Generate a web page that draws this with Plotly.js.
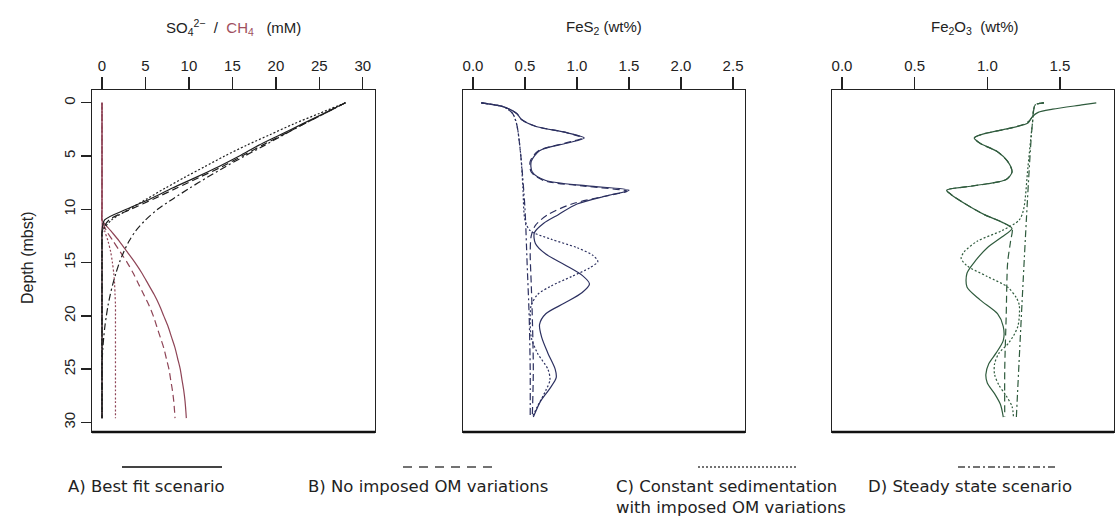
<!DOCTYPE html>
<html>
<head>
<meta charset="utf-8">
<script src="https://cdn.plot.ly/plotly-3.0.1.min.js"></script>
<style>html,body{margin:0;padding:0;background:#fff;}#chart{width:1120px;height:527px;}</style>
</head>
<body>
<div id="chart"></div>
<script>
// ---------- DATA ----------
// Panel 1: SO4 / CH4 (mM) on a common depth grid (mbsf)
const depth1 = [0,1,2,3,4,5,6,7,8,9,10,11,12,13,14,15,16,17,18,19,20,21,22,23,24,25,26,27,28,29,29.6];
const so4_A = [28,25.5,23,20.5,18,15.8,13.4,10.8,8.1,5.6,2.8,0.3,0,0,0,0,0,0,0,0,0,0,0,0,0,0,0,0,0,0,0];
const so4_B = [28,25.6,23.2,20.8,18.4,16.1,13.8,11.2,8.6,6.0,3.3,0.8,0.05,0,0,0,0,0,0,0,0,0,0,0,0,0,0,0,0,0,0];
const so4_C = [28,25,22,19.3,16.6,14.1,11.8,9.5,7.3,5.2,3.1,1.1,0.1,0,0,0,0,0,0,0,0,0,0,0,0,0,0,0,0,0,0];
const so4_D = [28,25.6,23.2,20.9,18.7,16.4,14.2,12.1,10.1,8.2,6.4,5.0,3.9,3.1,2.5,2.0,1.6,1.25,0.95,0.7,0.5,0.33,0.2,0.1,0.03,0,0,0,0,0,0];
const ch4_A = [0,0,0,0,0,0,0,0,0,0,0,0,1.0,2.0,2.9,3.8,4.6,5.3,6.0,6.6,7.1,7.6,8.0,8.4,8.7,9.0,9.2,9.4,9.55,9.65,9.7];
const ch4_B = [0,0,0,0,0,0,0,0,0,0,0,0,0.5,1.3,2.1,2.9,3.6,4.2,4.8,5.4,5.9,6.3,6.7,7.1,7.4,7.7,7.9,8.1,8.25,8.35,8.4];
const ch4_C = [0,0,0,0,0,0,0,0,0,0,0,0,0.3,0.7,1.0,1.2,1.35,1.45,1.5,1.55,1.55,1.55,1.55,1.55,1.55,1.55,1.55,1.55,1.55,1.55,1.55];
const ch4_D = [0,0,0,0,0,0,0,0,0,0,0,0,0,0,0,0,0,0,0,0,0,0,0,0,0,0,0,0,0,0,0];

// Panel 2: FeS2 (wt%)
const fes2_A_depth = [0,0.4,1.0,1.6,2.2,2.8,3.3,3.8,4.5,5.5,6.5,7.3,7.8,8.2,8.7,9.5,10.5,11.3,12.2,13.2,14.2,15.2,16.2,17.0,17.8,18.8,19.8,20.8,22.0,23.5,25.0,25.8,26.8,28.0,29.5];
const fes2_A       = [0.08,0.3,0.42,0.47,0.6,0.9,1.07,0.9,0.64,0.56,0.57,0.7,1.1,1.5,1.3,1.0,0.82,0.68,0.59,0.6,0.7,0.88,1.05,1.12,1.05,0.88,0.7,0.64,0.66,0.72,0.79,0.8,0.74,0.65,0.58];
const fes2_B_depth = [0,0.4,1.0,1.6,2.2,2.8,3.3,3.8,4.5,5.5,6.5,7.3,7.8,8.3,8.8,9.5,10.5,11.5,12.5,14,17,20,25,29.5];
const fes2_B       = [0.08,0.3,0.42,0.47,0.6,0.9,1.05,0.88,0.63,0.55,0.56,0.68,1.05,1.48,1.25,0.95,0.72,0.6,0.56,0.55,0.56,0.57,0.58,0.57];
const fes2_C_depth = [0,0.4,1.0,2,5,8,11,12,12.8,13.6,14.3,14.9,15.5,16.3,17.2,18,19,20,22,23.5,25,26,27,28.5,29.5];
const fes2_C       = [0.08,0.3,0.38,0.42,0.46,0.48,0.5,0.55,0.75,1.0,1.15,1.2,1.12,0.95,0.75,0.62,0.56,0.55,0.56,0.62,0.72,0.74,0.7,0.62,0.57];
const fes2_D_depth = [0,0.4,1.0,2,5,10,15,20,25,29.5];
const fes2_D       = [0.08,0.3,0.38,0.42,0.46,0.5,0.52,0.54,0.55,0.55];

// Panel 3: Fe2O3 (wt%)
const fe2o3_A_depth = [0,0.2,0.6,0.9,1.3,1.9,2.4,2.9,3.3,3.8,4.6,5.5,6.5,7.2,7.6,7.9,8.2,8.6,9.5,10.5,11.2,11.8,12.6,13.6,14.8,16.0,17.3,18.5,19.8,21.0,22.3,23.5,24.5,25.5,26.3,27.3,28.3,29.5];
const fe2o3_A       = [1.75,1.65,1.45,1.35,1.31,1.28,1.15,0.98,0.91,0.95,1.07,1.14,1.17,1.13,1.0,0.85,0.72,0.75,0.85,0.98,1.1,1.17,1.1,1.0,0.92,0.86,0.86,0.95,1.07,1.11,1.11,1.06,1.01,0.99,1.0,1.05,1.09,1.11];
const fe2o3_B_depth = [0,0.2,1.3,1.9,2.4,2.9,3.3,3.8,4.6,5.5,6.5,7.2,7.6,7.9,8.2,8.6,9.5,10.5,11.2,11.8,13,15,20,25,29.5];
const fe2o3_B       = [1.39,1.33,1.31,1.27,1.15,0.98,0.91,0.95,1.07,1.14,1.17,1.13,1.0,0.85,0.72,0.75,0.85,0.98,1.1,1.17,1.16,1.14,1.13,1.12,1.12];
const fe2o3_C_depth = [0,0.2,2,6,10,11,12,13,14,14.6,15.3,16.3,17.3,18.3,19,21,22.5,23.5,24.5,25.5,26.5,27.5,28.5,29.5];
const fe2o3_C       = [1.39,1.33,1.31,1.28,1.25,1.22,1.1,0.93,0.84,0.82,0.86,1.0,1.14,1.2,1.22,1.21,1.15,1.08,1.05,1.05,1.08,1.13,1.17,1.18];
const fe2o3_D_depth = [0,0.2,2,29.5];
const fe2o3_D       = [1.39,1.33,1.31,1.2];

// Tick labels
const ticks1 = [0,5,10,15,20,25,30];
const ticks2 = [0,0.5,1,1.5,2,2.5];
const ticks2Text = ['0.0','0.5','1.0','1.5','2.0','2.5'];
const ticks3 = [0,0.5,1,1.5];
const ticks3Text = ['0.0','0.5','1.0','1.5'];
const depthTicks = [0,5,10,15,20,25,30];

const legendLabels = ['A) Best fit scenario','B) No imposed OM variations','C) Constant sedimentation<br>with imposed OM variations','D) Steady state scenario'];

// ---------- STYLE ----------
const W = 1120, H = 527;
const DASH = {A:'solid', B:'7px,4px', C:'2px,2px', D:'7px,3px,2px,3px'};
const COL_SO4 = '#1e1e1e', COL_CH4 = '#8e4456', COL_FES2 = '#2c3060', COL_FE2O3 = '#2f5b3d';

function tr(x, y, xa, ya, color, dash, w) {
  return {x: x, y: y, xaxis: xa, yaxis: ya, type: 'scatter', mode: 'lines',
          line: {color: color, dash: dash, width: w || 1.2, shape: 'spline', smoothing: 0.8},
          hoverinfo: 'skip'};
}
const data = [
  tr(ch4_D, depth1, 'x', 'y', '#b0607a', 'solid', 1),
  tr(ch4_A, depth1, 'x', 'y', COL_CH4, DASH.A),
  tr(ch4_B, depth1, 'x', 'y', COL_CH4, DASH.B),
  tr(ch4_C, depth1, 'x', 'y', COL_CH4, DASH.C),
  tr(so4_A, depth1, 'x', 'y', COL_SO4, DASH.A),
  tr(so4_B, depth1, 'x', 'y', COL_SO4, DASH.B),
  tr(so4_C, depth1, 'x', 'y', COL_SO4, DASH.C),
  tr(so4_D, depth1, 'x', 'y', COL_SO4, DASH.D),
  tr(fes2_D, fes2_D_depth, 'x2', 'y2', COL_FES2, DASH.D),
  tr(fes2_C, fes2_C_depth, 'x2', 'y2', COL_FES2, DASH.C),
  tr(fes2_B, fes2_B_depth, 'x2', 'y2', COL_FES2, DASH.B),
  tr(fes2_A, fes2_A_depth, 'x2', 'y2', COL_FES2, DASH.A),
  tr(fe2o3_D, fe2o3_D_depth, 'x3', 'y3', COL_FE2O3, DASH.D),
  tr(fe2o3_C, fe2o3_C_depth, 'x3', 'y3', COL_FE2O3, DASH.C),
  tr(fe2o3_B, fe2o3_B_depth, 'x3', 'y3', COL_FE2O3, DASH.B),
  tr(fe2o3_A, fe2o3_A_depth, 'x3', 'y3', COL_FE2O3, DASH.A)
];

const yDom = [1 - 432 / H, 1 - 90 / H];
const yRange = [30.9, -1.2];
const tickFont = {family: 'Liberation Sans, Arial, sans-serif', size: 15, color: '#222'};
function xax(dom, range, tv, tt, anchor) {
  const a = {domain: dom, range: range, side: 'top', anchor: anchor, tickvals: tv,
    ticks: 'outside', ticklen: 12, tickwidth: 1.3, tickcolor: '#222',
    showline: true, mirror: true, linecolor: '#222', linewidth: 1.3,
    showgrid: false, zeroline: false, tickfont: tickFont, fixedrange: true};
  if (tt) a.ticktext = tt;
  return a;
}
function yax(anchor, showTicks) {
  return {domain: yDom, range: yRange, anchor: anchor,
    showline: true, mirror: true, linecolor: '#222', linewidth: 1.3,
    showgrid: false, zeroline: false,
    tickvals: showTicks ? depthTicks : [], ticks: showTicks ? 'outside' : '',
    ticklen: 10, tickwidth: 1.3, tickcolor: '#222', tickangle: -90,
    showticklabels: showTicks, tickfont: tickFont, fixedrange: true};
}

const legFont = {family: 'DejaVu Sans, sans-serif', size: 16.5, color: '#222'};
const titleFont = {family: 'Liberation Sans, Arial, sans-serif', size: 15, color: '#222'};
const shapes = [];
// thicker bottom frame lines
['x', 'x2', 'x3'].forEach((xa, i) => {
  const ya = ['y', 'y2', 'y3'][i];
  shapes.push({type: 'line', xref: xa + ' domain', yref: ya + ' domain', x0: 0, x1: 1, y0: 0, y1: 0,
               line: {color: '#111', width: 2.6}});
});
// legend samples
const legendLines = [[122, 222, DASH.A], [403, 493, '9px,7px'], [698, 798, DASH.C], [958, 1058, DASH.D]];
legendLines.forEach(l => {
  shapes.push({type: 'line', xref: 'paper', yref: 'paper', x0: l[0] / W, x1: l[1] / W,
               y0: 1 - 467 / H, y1: 1 - 467 / H, line: {color: '#444', width: l[2] === 'solid' ? 2 : 1.5, dash: l[2]}});
});

const annotations = [
  {text: 'SO<sub>4</sub><sup>2−</sup>  /  <span style="color:#a0505e">CH<sub>4</sub></span>   (mM)', x: 233 / W, y: 1 - 27 / H,
   xref: 'paper', yref: 'paper', showarrow: false, xanchor: 'center', yanchor: 'middle', font: titleFont},
  {text: 'FeS<sub>2</sub> (wt%)', x: 604 / W, y: 1 - 27 / H, xref: 'paper', yref: 'paper', showarrow: false,
   xanchor: 'center', yanchor: 'middle', font: titleFont},
  {text: 'Fe<sub>2</sub>O<sub>3</sub>  (wt%)', x: 975 / W, y: 1 - 27 / H, xref: 'paper', yref: 'paper', showarrow: false,
   xanchor: 'center', yanchor: 'middle', font: titleFont},
  {text: 'Depth (mbst)', x: 28 / W, y: 1 - 258 / H, xref: 'paper', yref: 'paper', showarrow: false,
   textangle: -90, xanchor: 'center', yanchor: 'middle', font: {family: 'Liberation Sans, Arial, sans-serif', size: 16, color: '#222'}},
  {text: legendLabels[0], x: 146 / W, y: 1 - 486 / H, xref: 'paper', yref: 'paper', showarrow: false,
   xanchor: 'center', yanchor: 'middle', font: legFont},
  {text: legendLabels[1], x: 428 / W, y: 1 - 486 / H, xref: 'paper', yref: 'paper', showarrow: false,
   xanchor: 'center', yanchor: 'middle', font: legFont},
  {text: legendLabels[2], x: 614 / W, y: 1 - 475 / H, xref: 'paper', yref: 'paper', showarrow: false,
   xanchor: 'left', yanchor: 'top', align: 'left', font: legFont},
  {text: legendLabels[3], x: 866 / W, y: 1 - 486 / H, xref: 'paper', yref: 'paper', showarrow: false,
   xanchor: 'left', yanchor: 'middle', font: legFont}
];

const layout = {
  width: W, height: H, margin: {l: 0, r: 0, t: 0, b: 0},
  paper_bgcolor: '#fff', plot_bgcolor: '#fff', showlegend: false,
  xaxis: xax([92 / W, 375 / W], [-1.15, 31.4], ticks1, null, 'y'),
  yaxis: yax('x', true),
  xaxis2: xax([463 / W, 745 / W], [-0.096, 2.615], ticks2, ticks2Text, 'y2'),
  yaxis2: yax('x2', false),
  xaxis3: xax([832 / W, 1114 / W], [-0.069, 1.872], ticks3, ticks3Text, 'y3'),
  yaxis3: yax('x3', false),
  shapes: shapes, annotations: annotations
};
Plotly.newPlot('chart', data, layout, {displayModeBar: false, staticPlot: true});
</script>
</body>
</html>
